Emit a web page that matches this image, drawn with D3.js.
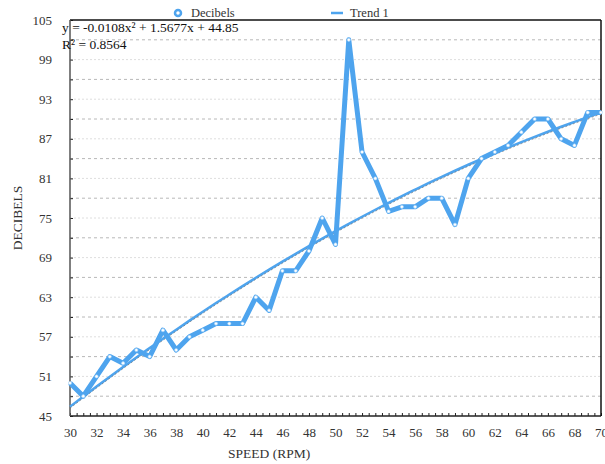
<!DOCTYPE html>
<html>
<head>
<meta charset="utf-8">
<script src="https://cdn.jsdelivr.net/npm/d3@7"></script>
<style>
  body { margin: 0; background: #fff; }
  svg text { font-family: "Liberation Serif", serif; fill: #333; }
</style>
</head>
<body>
<svg width="605" height="464"></svg>
<script>
// speed (rpm) and measured decibels
var speeds = d3.range(30, 71);
var decibels = [50, 48, 51, 54, 53, 55, 54, 58, 55, 57,
                58, 59, 59, 59, 63, 61, 67, 67, 70, 75,
                71, 102, 85, 81, 76, 76.7, 76.7, 78, 78, 74,
                81, 84, 85, 86, 88, 90, 90, 87, 86, 91, 91];
// polynomial trend values (from the equation shown on the chart)
var trend = [46.41, 47.94, 49.46, 50.95, 52.42, 53.87, 55.29, 56.70, 58.08, 59.45,
             60.79, 62.11, 63.40, 64.68, 65.94, 67.17, 68.38, 69.57, 70.74, 71.88,
             73.01, 74.11, 75.19, 76.25, 77.29, 78.31, 79.30, 80.28, 81.23, 82.16,
             83.07, 83.96, 84.82, 85.67, 86.49, 87.29, 88.07, 88.83, 89.56, 90.28, 90.97];
var yTicks = [45, 51, 57, 63, 69, 75, 81, 87, 93, 99, 105];
var yMinor = [48, 54, 60, 66, 72, 78, 84, 90, 96, 102];
var xTicks = d3.range(30, 71, 2);
var legendNames = ["Decibels", "Trend 1"];
var eqLines = ["y = -0.0108x\u00b2 + 1.5677x + 44.85", "R\u00b2 = 0.8564"];

var svg = d3.select("svg"),
    margin = {top: 20, right: 4, bottom: 48, left: 70},
    width = 605 - margin.left - margin.right,
    height = 464 - margin.top - margin.bottom,
    g = svg.append("g").attr("transform", "translate(" + margin.left + "," + margin.top + ")");

var blue = "#4ea4ee";

var x = d3.scaleLinear().domain([30, 70]).range([0, width]),
    y = d3.scaleLinear().domain([45, 105]).range([height, 0]);

var data = speeds.map(function(s, i) { return {x: s, y: decibels[i], t: trend[i]}; });

// gridlines
g.append("g").selectAll("line")
  .data(yMinor)
  .enter().append("line")
    .attr("x1", 0).attr("x2", width)
    .attr("y1", function(d) { return y(d); }).attr("y2", function(d) { return y(d); })
    .attr("stroke", "#b8b8b8").attr("stroke-dasharray", "3,3");

g.append("g").selectAll("line")
  .data(yTicks.slice(1, -1))
  .enter().append("line")
    .attr("x1", 0).attr("x2", width)
    .attr("y1", function(d) { return y(d); }).attr("y2", function(d) { return y(d); })
    .attr("stroke", "#dedede").attr("stroke-dasharray", "2,2");

// axes
g.append("g")
    .attr("transform", "translate(0," + height + ")")
    .call(d3.axisBottom(x).tickValues(d3.range(30, 70.5, 0.5)).tickSize(-3).tickFormat(""))
  .call(function(a) { a.select(".domain").remove(); a.selectAll("line").attr("stroke", "#222"); });

g.append("g")
    .attr("transform", "translate(0," + height + ")")
    .call(d3.axisBottom(x).tickValues(xTicks).tickSize(0).tickPadding(12).tickFormat(d3.format("d")))
  .call(function(a) {
    a.select(".domain").remove();
    a.selectAll("text").style("font-size", "13px").attr("fill", "#333");
  });

g.append("g")
    .call(d3.axisLeft(y).tickValues(yTicks.concat(yMinor)).tickSize(-3).tickFormat(""))
  .call(function(a) { a.select(".domain").remove(); a.selectAll("line").attr("stroke", "#222"); });

g.append("g")
    .call(d3.axisLeft(y).tickValues(yTicks).tickSize(0).tickPadding(18).tickFormat(d3.format("d")))
  .call(function(a) {
    a.select(".domain").remove();
    a.selectAll("text").style("font-size", "13px").attr("fill", "#333");
  });

// frame
g.append("line").attr("x1", 0).attr("x2", width).attr("y1", height).attr("y2", height).attr("stroke", "#222").attr("stroke-width", 1.5);
g.append("line").attr("x1", 0).attr("x2", width).attr("y1", 0).attr("y2", 0).attr("stroke", "#111").attr("stroke-width", 1.5);
g.append("line").attr("x1", 0).attr("x2", 0).attr("y1", 0).attr("y2", height).attr("stroke", "#555").attr("stroke-width", 1.5);
g.append("line").attr("x1", width).attr("x2", width).attr("y1", 0).attr("y2", height).attr("stroke", "#111").attr("stroke-width", 1.5);

// trend line
var trendLine = d3.line()
    .x(function(d) { return x(d.x); })
    .y(function(d) { return y(d.t); })
    .curve(d3.curveMonotoneX);

g.append("path")
    .attr("d", trendLine(data))
    .attr("fill", "none")
    .attr("stroke", blue)
    .attr("stroke-width", 2.5);

g.append("path")
    .attr("d", trendLine(data))
    .attr("transform", "translate(0,1.5)")
    .attr("fill", "none")
    .attr("stroke", "#666")
    .attr("stroke-width", 0.6)
    .attr("stroke-dasharray", "2,2");

// decibels line
var line = d3.line()
    .x(function(d) { return x(d.x); })
    .y(function(d) { return y(d.y); });

g.append("path")
    .attr("d", line(data))
    .attr("fill", "none")
    .attr("stroke", blue)
    .attr("stroke-width", 5)
    .attr("stroke-linejoin", "round");

g.selectAll(".dot")
  .data(data)
  .enter().append("circle")
    .attr("class", "dot")
    .attr("cx", function(d) { return x(d.x); })
    .attr("cy", function(d) { return y(d.y); })
    .attr("r", 1.6)
    .attr("fill", "#fff")
    .attr("stroke", "#9fd0f8")
    .attr("stroke-width", 0.6);

// equation
g.selectAll(".eq")
  .data(eqLines)
  .enter().append("text")
    .attr("class", "eq")
    .attr("x", -8)
    .attr("y", function(d, i) { return 12 + i * 17; })
    .style("font-size", "13.5px")
    .attr("fill", "#111")
    .style("fill", "#111")
    .text(function(d) { return d; });

// legend
var leg = svg.append("g");
leg.append("circle").attr("cx", 178).attr("cy", 13).attr("r", 3).attr("fill", "#fff").attr("stroke", blue).attr("stroke-width", 2.5);
leg.append("text").attr("x", 191).attr("y", 17).style("font-size", "12.5px").text(legendNames[0]);
leg.append("line").attr("x1", 331).attr("x2", 343).attr("y1", 13).attr("y2", 13).attr("stroke", blue).attr("stroke-width", 2.5);
leg.append("text").attr("x", 350).attr("y", 17).style("font-size", "12.5px").text(legendNames[1]);

// axis titles
svg.append("text")
    .attr("x", x(45) + margin.left)
    .attr("y", 458)
    .attr("text-anchor", "middle")
    .style("font-size", "13.5px")
    .text("SPEED (RPM)");

svg.append("text")
    .attr("transform", "translate(22," + (margin.top + y(75)) + ") rotate(-90)")
    .attr("text-anchor", "middle")
    .style("font-size", "13.5px")
    .text("DECIBELS");
</script>
</body>
</html>
